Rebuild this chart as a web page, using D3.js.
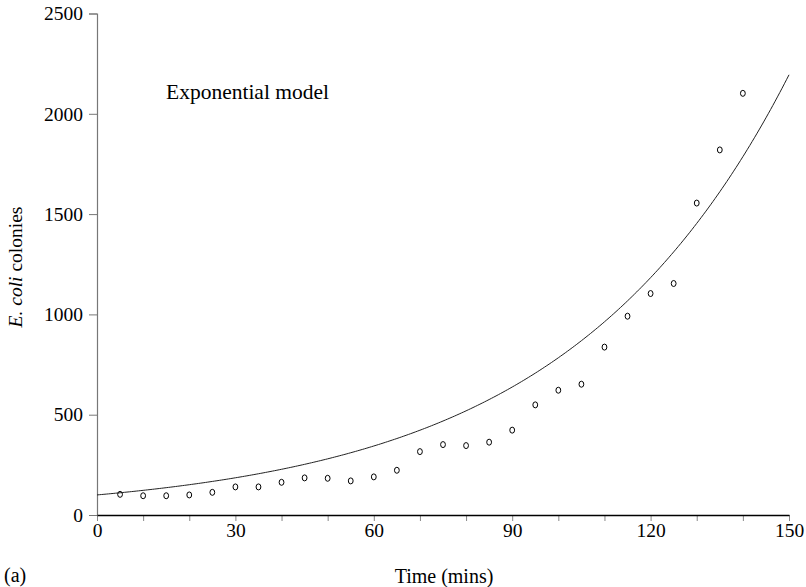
<!DOCTYPE html>
<html>
<head>
<meta charset="utf-8">
<script src="https://cdn.jsdelivr.net/npm/d3@7"></script>
<style>
    body { margin: 0; background: #fff; }
    text { font-family: "Liberation Serif", "Times New Roman", serif; fill: #000; }
</style>
</head>
<body>
<div id="chart"></div>
<script>
// observed colony counts
var times = [5, 10, 15, 20, 25, 30, 35, 40, 45, 50, 55, 60, 65, 70,
    75, 80, 85, 90, 95, 100, 105, 110, 115, 120, 125, 130, 135, 140];
var colonies = [103, 96, 96, 100, 113, 140, 140, 163, 185, 183, 170, 190, 223, 316,
    351, 346, 363, 423, 549, 622, 652, 837, 991, 1104, 1154, 1555, 1820, 2102];

// exponential model N(t) = n0 * exp(r t)
var modelN0 = 100;
var modelRate = 0.02059;

var xTicks = [0, 30, 60, 90, 120, 150];
var xMinorTicks = d3.range(0, 151, 10);
var yTicks = [0, 500, 1000, 1500, 2000, 2500];

var margin = { top: 13.5, right: 17, bottom: 72, left: 97 };
var width = 806 - margin.left - margin.right;
var height = 587 - margin.top - margin.bottom;

var svg = d3.select("#chart").append("svg")
    .attr("width", 806)
    .attr("height", 587);

var g = svg.append("g")
    .attr("transform", "translate(" + margin.left + "," + margin.top + ")");

var x = d3.scaleLinear().domain([0, 150]).range([0, width]);
var y = d3.scaleLinear().domain([0, 2500]).range([height, 0]);

//y-axis
var yAxis = g.append("g")
    .call(d3.axisLeft(y).tickValues(yTicks).tickFormat(d3.format("d")).tickSize(8).tickPadding(6));
yAxis.select(".domain").attr("stroke", "#777").attr("stroke-width", 1.2);
yAxis.selectAll(".tick line").attr("stroke", "#777");
yAxis.selectAll("text").style("font-size", "19.5px");

//x-axis minor ticks
var xMinor = g.append("g")
    .attr("transform", "translate(0," + height + ")")
    .call(d3.axisBottom(x).tickValues(xMinorTicks).tickSize(6).tickFormat(""));
xMinor.select(".domain").remove();
xMinor.selectAll(".tick line").attr("stroke", "#888");

//x-axis labels
var xAxis = g.append("g")
    .attr("transform", "translate(0," + height + ")")
    .call(d3.axisBottom(x).tickValues(xTicks).tickFormat(d3.format("d")).tickSize(0).tickPadding(8));
xAxis.select(".domain").attr("stroke", "#000").attr("stroke-width", 1.6);
xAxis.selectAll("text").style("font-size", "19.5px");

//model curve
var curveTimes = d3.range(0, 150.5, 0.5);
var line = d3.line()
    .x(function (t) { return x(t); })
    .y(function (t) { return y(modelN0 * Math.exp(modelRate * t)); });

g.append("path")
    .datum(curveTimes)
    .attr("d", line)
    .attr("fill", "none")
    .attr("stroke", "#222")
    .attr("stroke-width", 1);

//data points
g.selectAll("ellipse")
    .data(times)
    .enter()
    .append("ellipse")
    .attr("cx", function (d) { return x(d); })
    .attr("cy", function (d, i) { return y(colonies[i]); })
    .attr("rx", 2.4)
    .attr("ry", 3)
    .attr("fill", "none")
    .attr("stroke", "#000")
    .attr("stroke-width", 1);

//labels
svg.append("text")
    .attr("x", 166)
    .attr("y", 99)
    .style("font-size", "21.5px")
    .text("Exponential model");

svg.append("text")
    .attr("x", 444)
    .attr("y", 583)
    .attr("text-anchor", "middle")
    .style("font-size", "20px")
    .text("Time (mins)");

svg.append("text")
    .attr("x", 4)
    .attr("y", 582)
    .style("font-size", "20px")
    .text("(a)");

var yLabel = svg.append("text")
    .attr("transform", "translate(22,267) rotate(-90)")
    .attr("text-anchor", "middle")
    .style("font-size", "19.5px");
yLabel.append("tspan").style("font-style", "italic").text("E. coli");
yLabel.append("tspan").text(" colonies");
</script>
</body>
</html>
